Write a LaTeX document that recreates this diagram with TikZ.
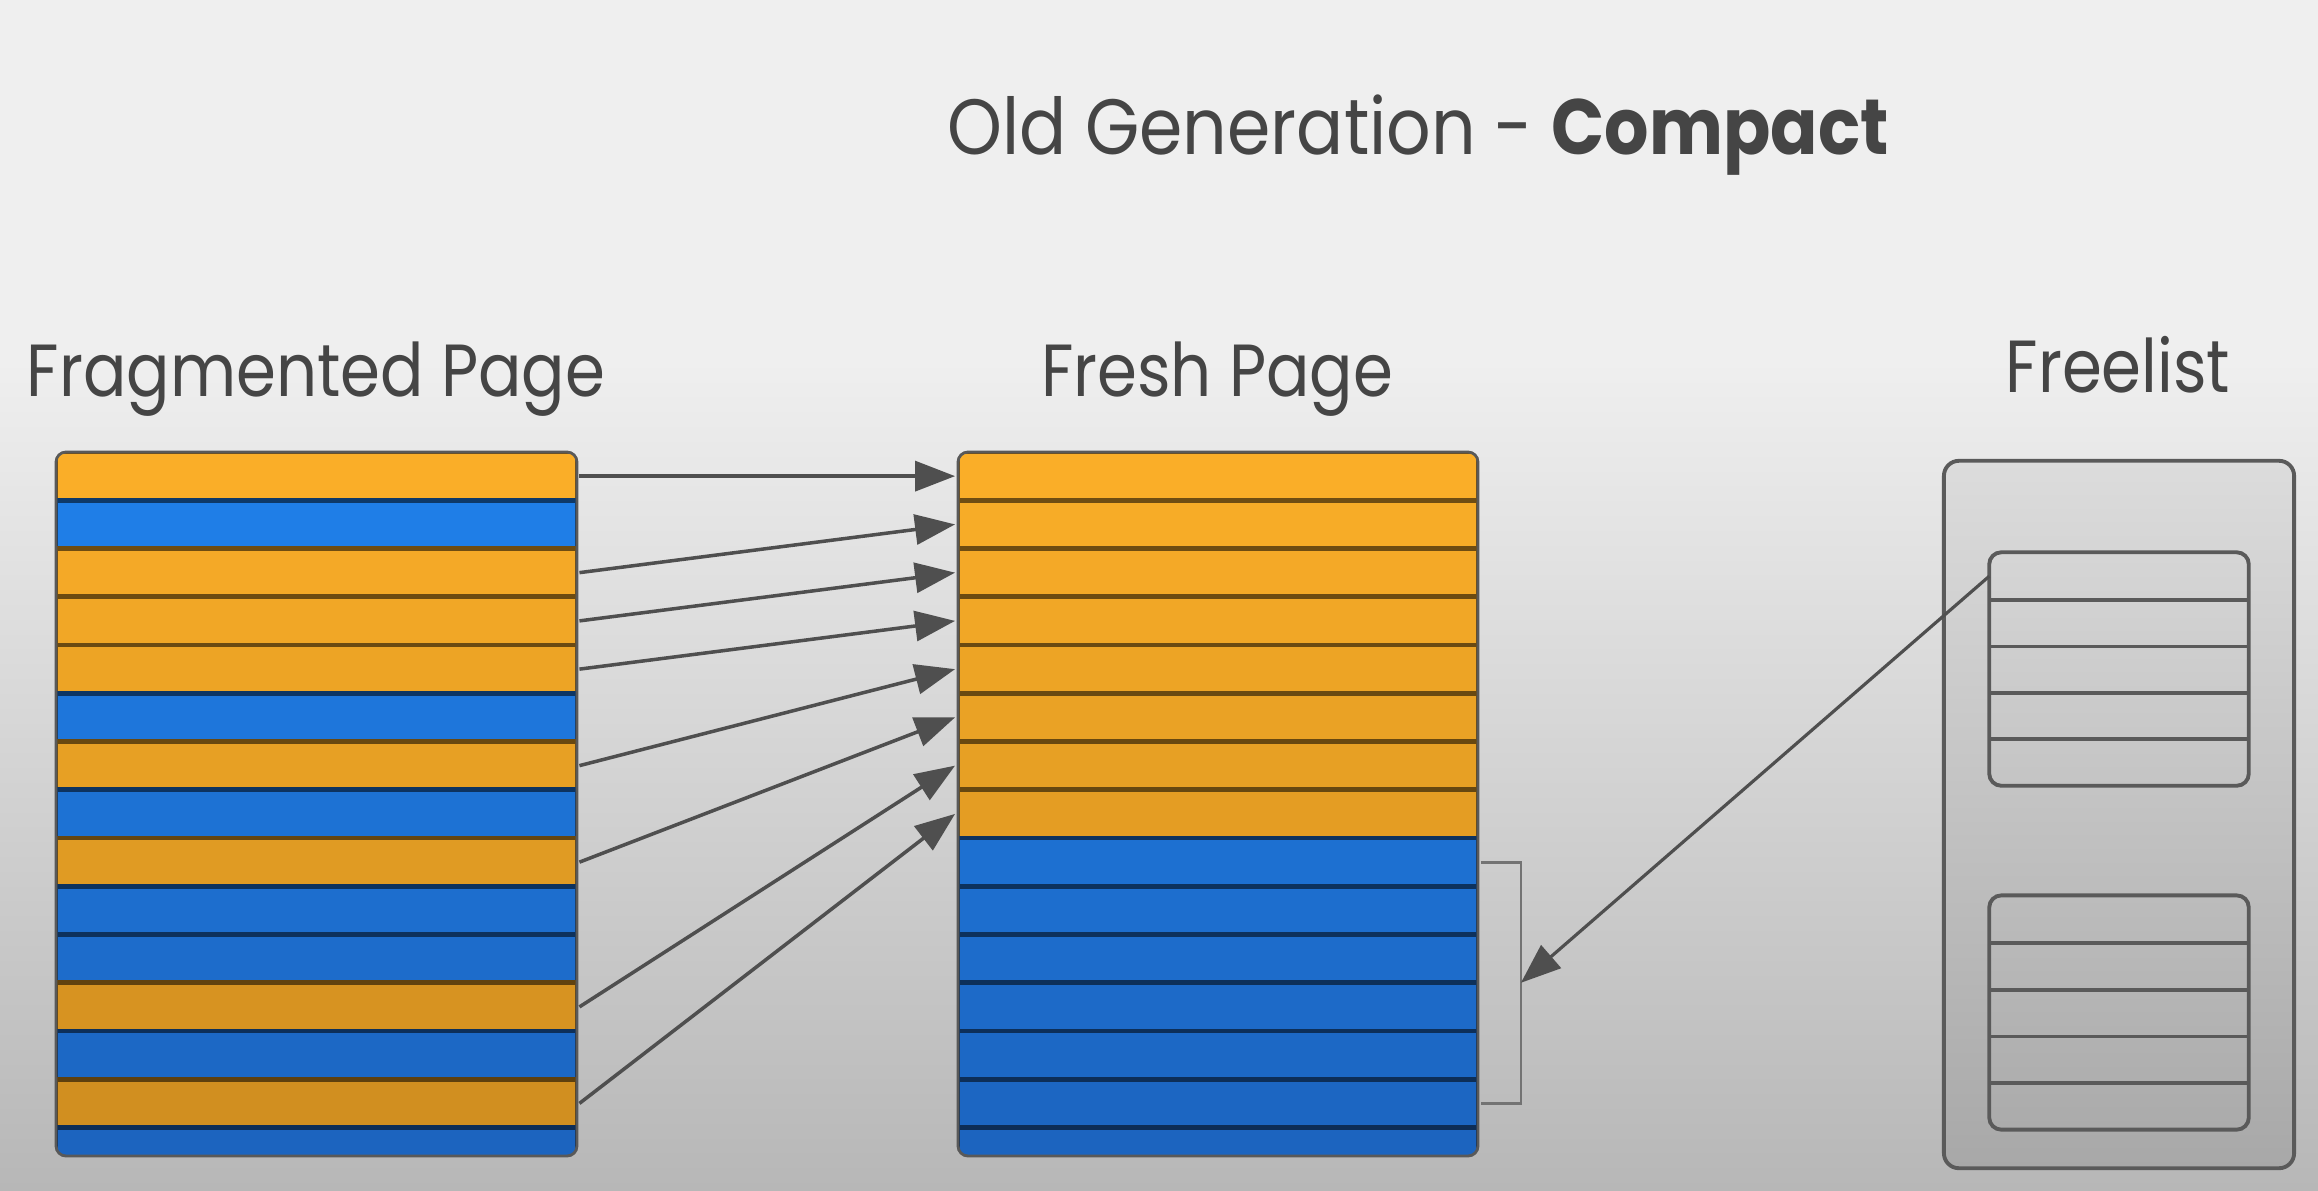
\documentclass[tikz,border=0pt]{standalone}
\usepackage{fontspec}
\setmainfont{Poppins}
\newfontfamily\titlefont[FakeStretch=0.89]{Poppins}
\newfontfamily\lblfont[FakeStretch=0.87]{Poppins}
\usetikzlibrary{arrows.meta,calc}
\definecolor{bgtop}{HTML}{EFEFEF}
\definecolor{bgbot}{HTML}{B7B7B7}
\definecolor{orTop}{HTML}{FAAE28}
\definecolor{orBot}{HTML}{CD8C1F}
\definecolor{blTop}{HTML}{1F80EA}
\definecolor{blBot}{HTML}{1C64BF}
\definecolor{txt}{HTML}{454545}
\definecolor{arr}{HTML}{4F4F4F}
\definecolor{flTop}{HTML}{DCDCDC}
\definecolor{flBot}{HTML}{A8A8A8}
\definecolor{flLine}{HTML}{5A5A5A}
\begin{document}
\begin{tikzpicture}[x=0.01cm,y=-0.01cm,
  slot/.style={rectangle, inner sep=0pt, minimum width=5.21cm, minimum height=0.4825cm, line width=1.3pt},
  fslot/.style={rectangle, inner sep=0pt, minimum width=2.58cm, minimum height=0.464cm},
  mover/.style={draw=arr, line width=1pt, -{Triangle[length=0.4cm,width=0.3cm]}},
  lbl/.style={font=\lblfont\fontsize{21}{25}\selectfont, text=txt, anchor=base, inner sep=0pt},
  pageborder/.style={draw=black!65, line width=0.8pt, rounded corners=0.1cm},
  flborder/.style={draw=flLine, line width=1.1pt, rounded corners=0.12cm}]

\useasboundingbox (0,0) rectangle (2318,1190);
\fill[bgtop] (0,0) rectangle (2318,361);
\shade[top color=bgtop, bottom color=bgbot] (0,360) rectangle (2318,1190);

% texts
\node[lbl, font=\titlefont\fontsize{22.3}{27}\selectfont] (title) at (1418,154) {Old Generation - \textbf{Compact}};
\node[lbl] (lfrag) at (316,396) {Fragmented Page};
\node[lbl] (lfresh) at (1217,396) {Fresh Page};
\node[lbl] (lfree) at (2118,392) {Freelist};

% fragmented page
\begin{scope}
\clip[rounded corners=0.1cm] (56,452) rectangle (577,1156);
\foreach \c [count=\i from 0] in {O,B,O,O,O,B,O,B,O,B,B,O,B,O,B} {
  \pgfmathtruncatemacro\t{100*\i/14}
  \if\c O\colorlet{rowc}{orBot!\t!orTop}\else\colorlet{rowc}{blBot!\t!blTop}\fi
  \node[slot, fill=rowc, draw=rowc!45!black] (f\i) at (316.5,{452+48.25*\i+24.125}) {};
}
\end{scope}
\draw[pageborder] (56,452) rectangle (577,1156);

% fresh page
\begin{scope}
\clip[rounded corners=0.1cm] (958,452) rectangle (1478,1156);
\foreach \c [count=\i from 0] in {O,O,O,O,O,O,O,O,B,B,B,B,B,B,B} {
  \pgfmathtruncatemacro\t{100*\i/14}
  \if\c O\colorlet{rowc}{orBot!\t!orTop}\else\colorlet{rowc}{blBot!\t!blTop}\fi
  \node[slot, fill=rowc, draw=rowc!45!black] (r\i) at (1218,{452+48.25*\i+24.125}) {};
}
\end{scope}
\draw[pageborder] (958,452) rectangle (1478,1156);

% arrows from fragmented to fresh
\foreach \s [count=\k from 0] in {0,2,3,4,6,8,11,13}
  \draw[mover] (f\s.east) -- (r\k.west);

% bracket
\path (r8.east) ++(40,0) coordinate (bt);
\path (r13.east) ++(40,0) coordinate (bb);
\draw[draw=black!55, line width=0.8pt] (r8.east) -- (bt) -- (bb) -- (r13.east);
\coordinate (bm) at ($(bt)!0.5!(bb)$);

% freelist
\node[rectangle, minimum width=3.5cm, minimum height=7.07cm, rounded corners=0.15cm,
  top color=flTop, bottom color=flBot, draw=flLine, line width=1.1pt] (freelist) at (2119,814.5) {};
\foreach \i in {0,...,4} {
  \node[fslot] (ia\i) at (2119,{553+46.4*\i+23.2}) {};
  \node[fslot] (ib\i) at (2119,{896+46.6*\i+23.3}) {};
}
\foreach \i in {0,...,3} {
  \draw[flLine, line width=1.1pt] (ia\i.south west) -- (ia\i.south east);
  \draw[flLine, line width=1.1pt] (ib\i.south west) -- (ib\i.south east);
}
\draw[flborder] (ia0.north west) rectangle (ia4.south east);
\draw[flborder] (ib0.north west) rectangle (ib4.south east);

\draw[mover, line width=0.9pt] (ia0.west) -- (bm);
\end{tikzpicture}
\end{document}
